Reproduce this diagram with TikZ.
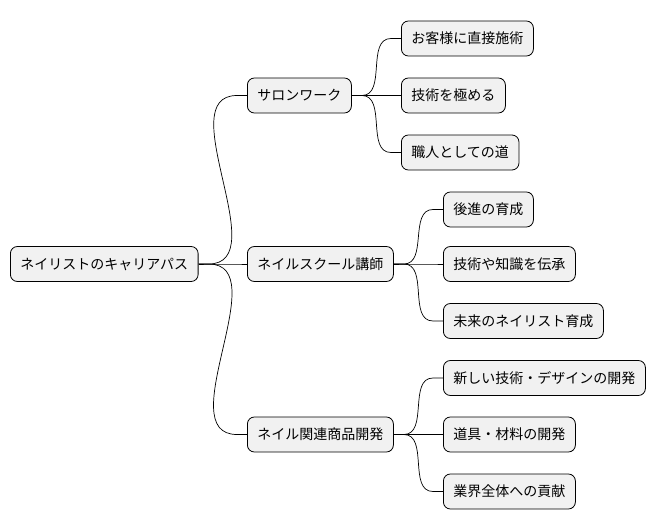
\documentclass[tikz,border=0pt]{standalone}
\usepackage{fontspec}
\newfontfamily\jp{Noto Sans CJK JP}
\begin{document}
\begin{tikzpicture}[x=1pt,y=-1pt,
  box/.style={draw=black,line width=0.8pt,fill={rgb,255:red,241;green,241;blue,241},rounded corners=7pt,minimum height=35pt,inner xsep=10pt,anchor=west,font=\jp\fontsize{14}{16}\selectfont},
  e/.style={draw=black,line width=0.7pt}]
\useasboundingbox (0,0) rectangle (656,527);
\node[box] (r) at (10,264) {ネイリストのキャリアパス};
\node[box] (a) at (247,95.5) {サロンワーク};
\node[box] (b) at (247,264) {ネイルスクール講師};
\node[box] (c) at (247,434.5) {ネイル関連商品開発};
\node[box] (a1) at (401,38.5) {お客様に直接施術};
\node[box] (a2) at (401,95.5) {技術を極める};
\node[box] (a3) at (401,152.5) {職人としての道};
\node[box] (b1) at (443,209.5) {後進の育成};
\node[box] (b2) at (443,264) {技術や知識を伝承};
\node[box] (b3) at (443,321) {未来のネイリスト育成};
\node[box] (c1) at (443,378) {新しい技術・デザインの開発};
\node[box] (c2) at (443,434.5) {道具・材料の開発};
\node[box] (c3) at (443,491.5) {業界全体への貢献};
\foreach \p/\c in {r/a,r/b,r/c,a/a1,a/a2,a/a3,b/b1,b/b2,b/b3,c/c1,c/c2,c/c3}{
  \draw[e] (\p.east) -- ++(10,0) to[out=0,in=180] ([xshift=-10pt]\c.west) -- (\c.west);
}
\end{tikzpicture}
\end{document}
